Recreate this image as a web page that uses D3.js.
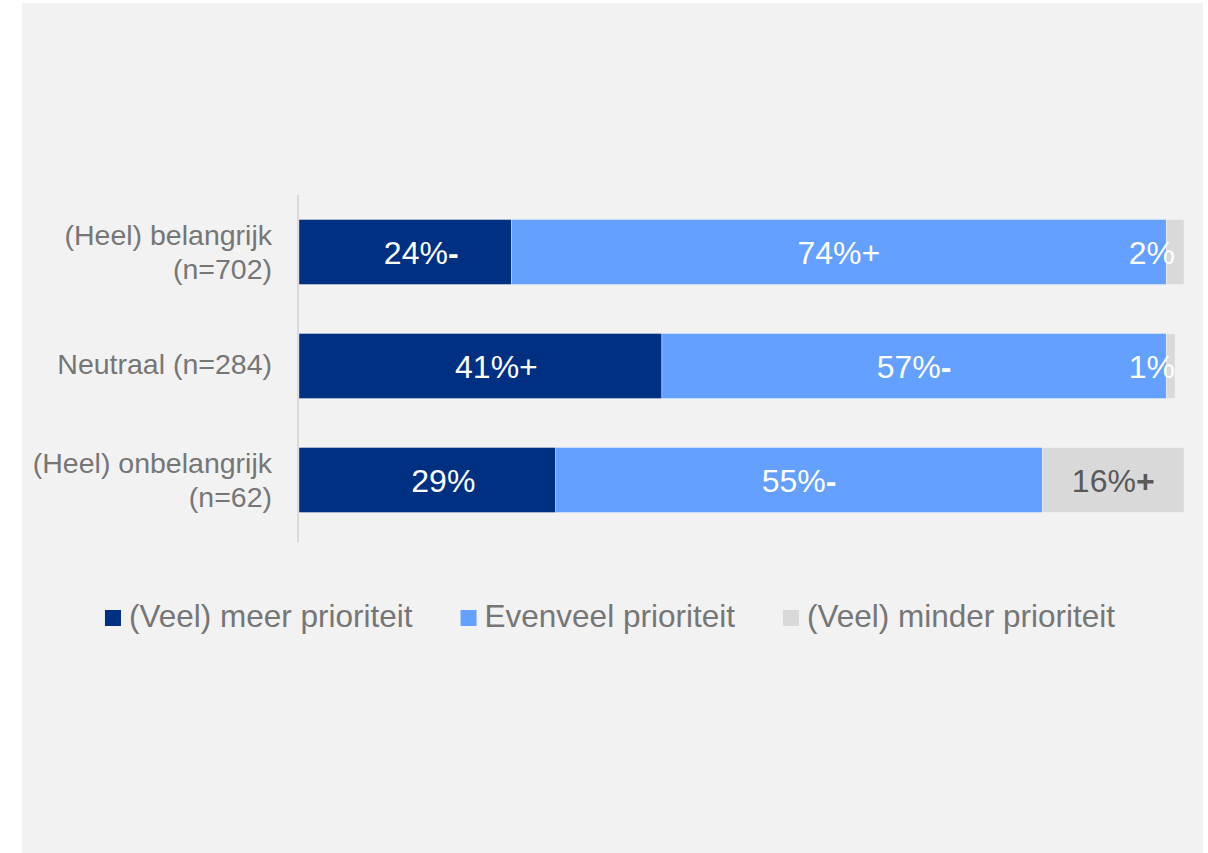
<!DOCTYPE html>
<html>
<head>
<meta charset="utf-8">
<script src="https://cdn.jsdelivr.net/npm/d3@7"></script>
<style>
  body { margin: 0; background: #ffffff; }
  svg text { font-family: "Liberation Sans", Arial, sans-serif; }
</style>
</head>
<body>
<div class="viz"></div>
<script>
// data
var categories = ["(Heel) belangrijk (n=702)", "Neutraal (n=284)", "(Heel) onbelangrijk (n=62)"];
var categoryLines = [["(Heel) belangrijk", "(n=702)"], ["Neutraal (n=284)"], ["(Heel) onbelangrijk", "(n=62)"]];
var seriesKeys = ["meer", "evenveel", "minder"];
var seriesNames = ["(Veel) meer prioriteit", "Evenveel prioriteit", "(Veel) minder prioriteit"];
var meer = [24, 41, 29];
var evenveel = [74, 57, 55];
var minder = [2, 1, 16];
// significance markers after each label
var meerMarks = ["-", "+", ""];
var evenveelMarks = ["+", "-", "-"];
var minderMarks = ["", "", "+"];

var colors = ["#003082", "#63a0ff", "#d9d9d9"];
var labelShift = [16, 0, 0]; // first series labels sit a bit right of centre in the original
var width = 1208,
  height = 853,
  margin = { top: 195, left: 299, right: 24, bottom: 316 };

var rows = categories.map(function (c, i) {
  return { cat: c, meer: meer[i], evenveel: evenveel[i], minder: minder[i] };
});
var marks = { meer: meerMarks, evenveel: evenveelMarks, minder: minderMarks };

var svg = d3
  .select(".viz")
  .append("svg")
  .attr("width", width)
  .attr("height", height);

// chart area background
svg
  .append("rect")
  .attr("x", 22)
  .attr("y", 3)
  .attr("width", 1181)
  .attr("height", 850)
  .attr("fill", "#f2f2f2");

var x = d3
  .scaleLinear()
  .domain([0, 100])
  .range([margin.left, width - margin.right]);

var y = d3
  .scaleBand()
  .domain(categories)
  .range([margin.top, height - margin.bottom])
  .paddingInner(0.43)
  .paddingOuter(0.215);

var stack = d3.stack().keys(seriesKeys);
var layers = stack(rows);

// category axis line
svg
  .append("line")
  .attr("x1", x(0) - 1)
  .attr("x2", x(0) - 1)
  .attr("y1", margin.top)
  .attr("y2", height - margin.bottom + 5)
  .attr("stroke", "#d9d9d9")
  .attr("stroke-width", 2);

var layer = svg
  .selectAll("g.layer")
  .data(layers)
  .enter()
  .append("g")
  .attr("class", "layer")
  .attr("fill", function (d, i) {
    return colors[i];
  });

layer
  .selectAll("rect")
  .data(function (d) {
    return d;
  })
  .enter()
  .append("rect")
  .attr("x", function (d) {
    return x(d[0]);
  })
  .attr("y", function (d) {
    return y(d.data.cat);
  })
  .attr("width", function (d) {
    return x(d[1]) - x(d[0]);
  })
  .attr("height", y.bandwidth())
  .attr("stroke", "#ffffff")
  .attr("stroke-opacity", 0.45)
  .attr("stroke-width", 0.75);

// value labels
layers.forEach(function (l, si) {
  l.forEach(function (d, ri) {
    var value = d[1] - d[0];
    var dark = si === 2 && ri === 2;
    var t = svg
      .append("text")
      .attr("y", y(d.data.cat) + y.bandwidth() / 2)
      .attr("dy", "0.36em")
      .attr("text-anchor", "middle")
      .style("font-size", "32px")
      .attr("fill", dark ? "#595959" : "#ffffff");
    t.append("tspan").text(value + "%");
    var m = marks[l.key][ri];
    if (m)
      t.append("tspan")
        .attr("font-weight", m === "-" || dark ? "bold" : "normal")
        .text(m);
    // keep the label inside the plot on the right side
    var w = t.node().getComputedTextLength();
    var cx = (x(d[0]) + x(d[1])) / 2 + labelShift[si];
    var maxRight = x(100) - 9;
    if (cx + w / 2 > maxRight) cx = maxRight - w / 2;
    t.attr("x", cx);
  });
});

// category labels
categories.forEach(function (c, i) {
  var lines = categoryLines[i];
  var cy = y(c) + y.bandwidth() / 2;
  var t = svg
    .append("text")
    .attr("text-anchor", "end")
    .attr("fill", "#767676")
    .style("font-size", "28.5px");
  lines.forEach(function (line, j) {
    var base = lines.length === 1 ? cy + 8 : cy - 7 + j * 34;
    t.append("tspan").attr("x", x(0) - 27).attr("y", base).text(line);
  });
});

// legend
var legend = svg.append("g").attr("class", "legend");
var items = legend
  .selectAll("g")
  .data(seriesNames)
  .enter()
  .append("g");

items
  .append("rect")
  .attr("width", 16)
  .attr("height", 16)
  .attr("y", 610)
  .attr("fill", function (d, i) {
    return colors[i];
  });

items
  .append("text")
  .attr("x", 24)
  .attr("y", 627)
  .attr("fill", "#767676")
  .style("font-size", "31.5px")
  .text(function (d) {
    return d;
  });

var offsets = [],
  pos = 0;
items.each(function () {
  var w = d3.select(this).select("text").node().getComputedTextLength();
  offsets.push(pos);
  pos += 24 + w + 48;
});
var total = pos - 48;
var startX = 610 - total / 2;
items.attr("transform", function (d, i) {
  return "translate(" + (startX + offsets[i]) + ",0)";
});
</script>
</body>
</html>
